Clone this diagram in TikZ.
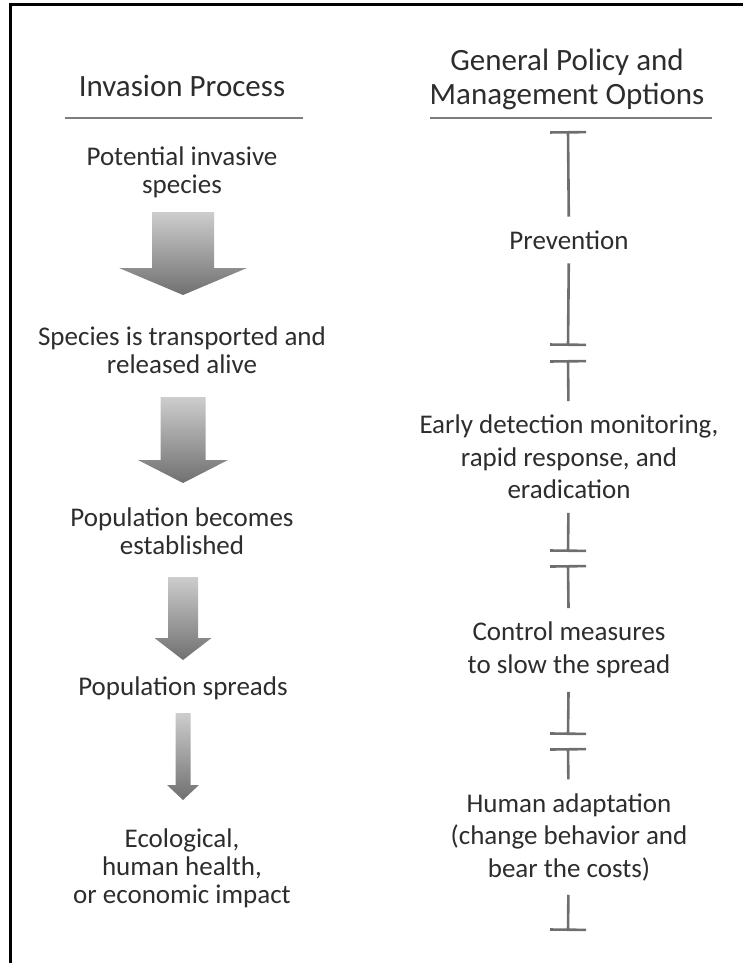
\documentclass[tikz,border=0pt]{standalone}
\usepackage{fontspec}
\setmainfont{Carlito}
\usepackage{xcolor}
\usetikzlibrary{arrows.meta}
\definecolor{txtgray}{RGB}{45,45,45}
\definecolor{lingray}{RGB}{110,110,110}
\definecolor{rulegray}{RGB}{125,125,125}
\definecolor{arrtop}{RGB}{205,205,205}
\definecolor{arrbot}{RGB}{112,112,112}
\tikzset{
	stage/.style={align=center, text=txtgray, inner sep=4pt, outer sep=10pt,
			font=\fontsize{27}{28}\selectfont},
	option/.style={stage, font=\fontsize{27}{32.5}\selectfont},
	heading/.style={align=center, text=txtgray, font=\fontsize{31}{34}\selectfont},
	headrule/.style={draw=rulegray, line width=1.8pt},
	inhib/.style={draw=lingray, line width=2.6pt, -{Bar[width=36pt]}}
}

\begin{document}
\begin{tikzpicture}[x=1pt, y=-1pt]
		\useasboundingbox (0, 0) rectangle (743, 963);
		\draw[line width=3pt] (10.5, 963) -- (10.5, 4.5) -- (743, 4.5);

		% left column
		\node[heading] (proc) at (182, 86) {Invasion Process};
		\draw[headrule] (65, 118) to (303, 118);

		\node[stage] (pot) at (182, 172) {Potential invasive\\species};
		\node[stage] (trans) at (182, 350) {Species is transported and\\released alive};
		\node[stage] (estab) at (182, 531) {Population becomes\\established};
		\node[stage] (spread) at (183, 688) {Population spreads};
		\node[stage] (impact) at (182, 868) {Ecological,\\human health,\\or economic impact};

		\foreach \top/\base/\tip/\sw/\hw in {212/268/295/31/64, 397/460/483/22.5/45,
				577/638/660/15/28.5, 713/785/800/7.5/16} {
			\shade[top color=arrtop, bottom color=arrbot]
				(183-\sw, \top) -- (183+\sw, \top) -- (183+\sw, \base) -- (183+\hw, \base)
				-- (183, \tip) -- (183-\hw, \base) -- (183-\sw, \base) -- cycle;
		}

		% right column
		\node[heading] (policy) at (567, 79) {General Policy and\\Management Options};
		\draw[headrule] (430, 118) to (712, 118);

		\node[option] (prev) at (569, 240) {Prevention};
		\node[option] (early) at (569, 457) {Early detection monitoring,\\rapid response, and\\eradication};
		\node[option] (control) at (569, 650) {Control measures\\to slow the spread};
		\node[option] (human) at (569, 837) {Human adaptation\\(change behavior and\\bear the costs)};

		\coordinate (b0) at (568, 131);
		\coordinate (b1) at (568, 346);
		\coordinate (b2) at (568, 360);
		\coordinate (b3) at (568, 552);
		\coordinate (b4) at (568, 565);
		\coordinate (b5) at (568, 735);
		\coordinate (b6) at (568, 748);
		\coordinate (b7) at (568, 931);

		\draw[inhib] (prev) to (b0);
		\draw[inhib] (prev) to (b1);
		\draw[inhib] (early) to (b2);
		\draw[inhib] (early) to (b3);
		\draw[inhib] (control) to (b4);
		\draw[inhib] (control) to (b5);
		\draw[inhib] (human) to (b6);
		\draw[inhib] (human) to (b7);
	\end{tikzpicture}
\end{document}
